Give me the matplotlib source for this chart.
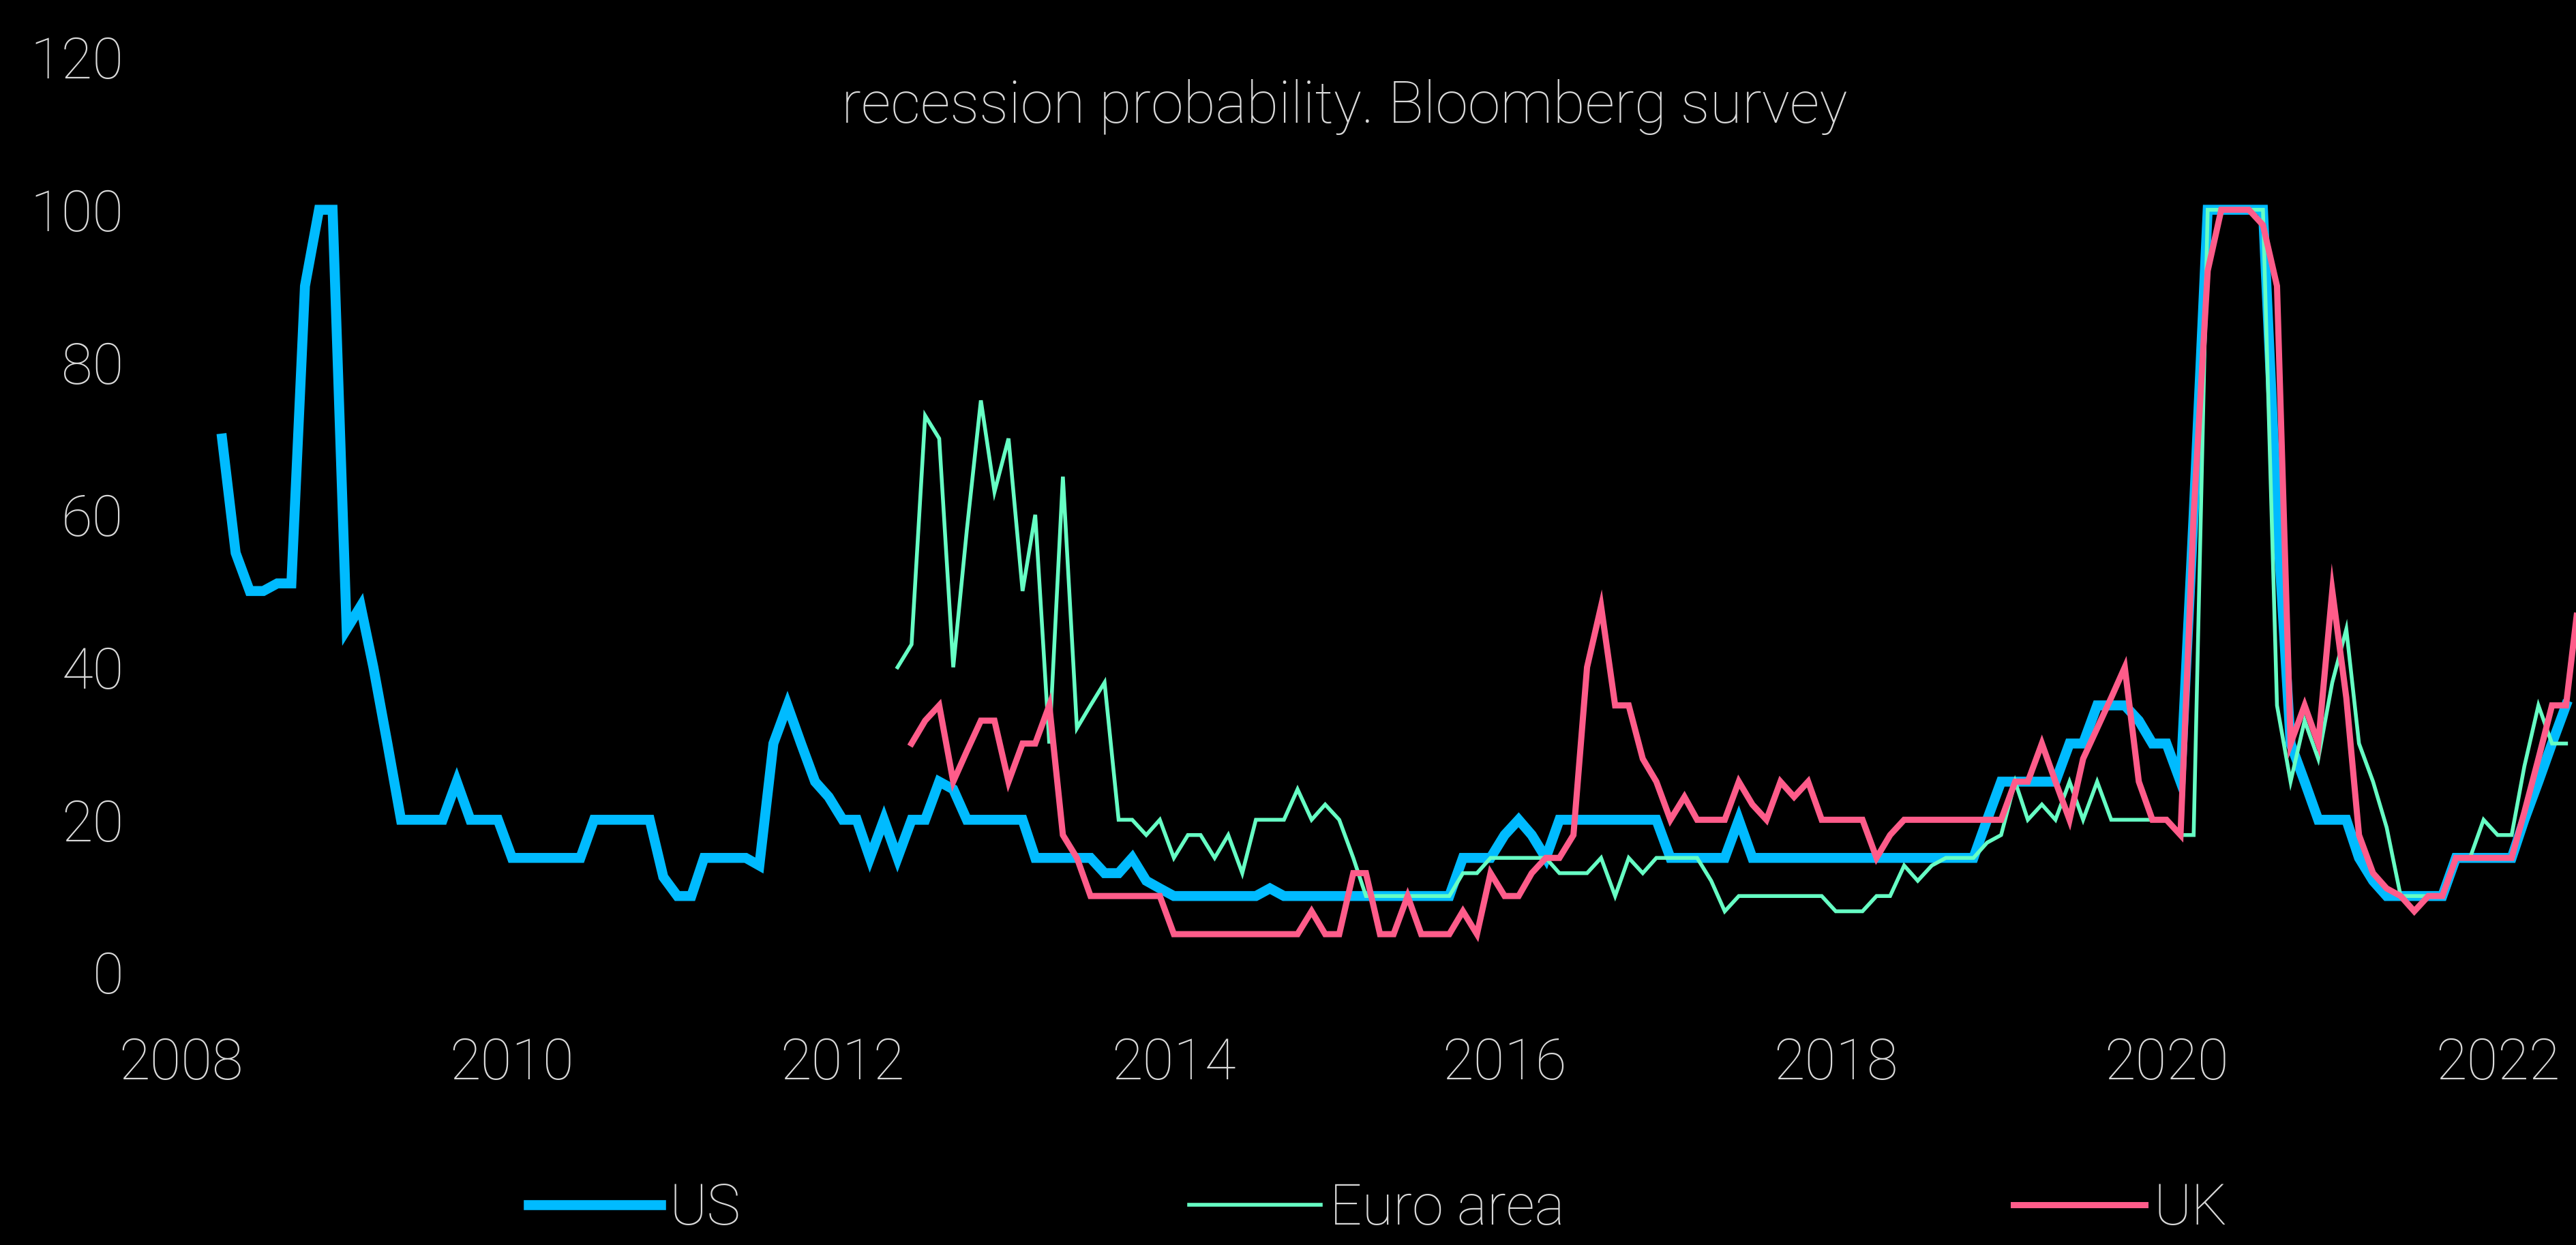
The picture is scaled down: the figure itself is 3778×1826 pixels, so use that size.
import datetime as dt
import matplotlib
matplotlib.use("Agg")
import matplotlib.pyplot as plt
import matplotlib.dates as mdates
import pandas as pd

# monthly readings, % probability of recession (Bloomberg survey)
us_start = "2008-04-01"
us = [70, 55, 50, 50, 51, 51, 90, 100, 100,
      45, 48, 40, 30, 20, 20, 20, 20, 25, 20, 20, 20,
      15, 15, 15, 15, 15, 15, 20, 20, 20, 20, 20, 12.5,
      10, 10, 15, 15, 15, 15, 14, 30, 35, 30, 25, 23,
      20, 20, 15, 20, 15, 20, 20, 25, 24, 20, 20, 20,
      20, 20, 15, 15, 15, 15, 15, 13, 13, 15, 12, 11,
      10, 10, 10, 10, 10, 10, 10, 11, 10, 10, 10, 10,
      10, 10, 10, 10, 10, 10, 10, 10, 10, 15, 15, 15,
      18, 20, 18, 15, 20, 20, 20, 20, 20, 20, 20, 20,
      15, 15, 15, 15, 15, 20, 15, 15, 15, 15, 15, 15,
      15, 15, 15, 15, 15, 15, 15, 15, 15, 15, 15, 20,
      25, 25, 25, 25, 25, 30, 30, 35, 35, 35, 33, 30,
      30, 25, 60, 100, 100, 100, 100, 100, 60, 30, 25, 20,
      20, 20, 15, 12, 10, 10, 10, 10, 10, 15, 15, 15,
      15, 15, 20, 25, 30, 35]

euro_start = "2012-05-01"
euro = [40, 43, 73, 70, 40, 58, 75, 63,
        70, 50, 60, 30, 65, 32, 35, 38, 20, 20, 18, 20,
        15, 18, 18, 15, 18, 13, 20, 20, 20, 24, 20, 22,
        20, 15, 10, 10, 10, 10, 10, 10, 10, 13, 13, 15,
        15, 15, 15, 15, 13, 13, 13, 15, 10, 15, 13, 15,
        15, 15, 15, 12, 8, 10, 10, 10, 10, 10, 10, 10,
        8, 8, 8, 10, 10, 14, 12, 14, 15, 15, 15, 17,
        18, 25, 20, 22, 20, 25, 20, 25, 20, 20, 20, 20,
        20, 18, 18, 100, 100, 100, 100, 100, 35, 25, 33, 28,
        38, 45, 30, 25, 19, 10, 10, 10, 10, 15, 15, 20,
        18, 18, 27, 35, 30, 30]

uk_start = "2012-06-01"
uk = [30, 33, 35, 25, 29, 33, 33,
      25, 30, 30, 35, 18, 15, 10, 10, 10, 10, 10, 10,
      5, 5, 5, 5, 5, 5, 5, 5, 5, 5, 8, 5,
      5, 13, 13, 5, 5, 10, 5, 5, 5, 8, 5, 13,
      10, 10, 13, 15, 15, 18, 40, 48, 35, 35, 28, 25,
      20, 23, 20, 20, 20, 25, 22, 20, 25, 23, 25, 20,
      20, 20, 20, 15, 18, 20, 20, 20, 20, 20, 20, 20,
      20, 25, 25, 30, 25, 20, 28, 32, 36, 40, 25, 20,
      20, 18, 60, 92, 100, 100, 100, 98, 90, 30, 35, 30,
      50, 36, 18, 13, 11, 10, 8, 10, 10, 15, 15, 15,
      15, 15, 21, 28, 35, 35, 50]

title = "recession probability. Bloomberg survey"
labels = ["US", "Euro area", "UK"]
colors = ["#00bbff", "#66ffc4", "#ff5c8a"]
widths = [10.5, 4.0, 6.5]

txt = "#d9d9d9"
plt.rcParams["font.family"] = ["Roboto", "DejaVu Sans"]

fig = plt.figure(figsize=(37.78, 18.26), dpi=100, facecolor="black")
ax = fig.add_axes([230 / 3778, 400 / 1826, 1 - 230 / 3778, 1342 / 1826])
ax.set_facecolor("black")

series = [(us_start, us), (euro_start, euro), (uk_start, uk)]
for (start, vals), lab, c, w in zip(series, labels, colors, widths):
    x = pd.date_range(start, periods=len(vals), freq="MS")
    ax.plot(x, vals, color=c, lw=w, label=lab, solid_joinstyle="miter")

ax.set_ylim(0, 120)
ax.set_yticks(range(0, 121, 20))
ax.set_xlim(dt.datetime(2007, 11, 9), dt.datetime(2022, 6, 23))
ax.xaxis.set_major_locator(mdates.YearLocator(2))
ax.xaxis.set_major_formatter(mdates.DateFormatter("%Y"))
ax.tick_params(axis="both", length=0, labelsize=60, labelcolor=txt)
ax.tick_params(axis="x", pad=68)
ax.tick_params(axis="y", pad=35)
for lab in ax.get_xticklabels() + ax.get_yticklabels():
    lab.set_fontweight("light")
for s in ax.spines.values():
    s.set_visible(False)

fig.text(0.522, 1 - 157 / 1826, title, ha="center", va="center",
         fontsize=62, color=txt, fontweight="light")

# legend sits at the very bottom, nudged up just enough to stay whole
leg = fig.legend(loc="center", bbox_to_anchor=(0.535, 0.029), ncol=3,
                 frameon=False, fontsize=60, handlelength=2.32,
                 handletextpad=0.15, columnspacing=7.9)
for t in leg.get_texts():
    t.set_color(txt)
    t.set_fontweight("light")

fig.savefig("out.png", dpi=100, facecolor="black")
